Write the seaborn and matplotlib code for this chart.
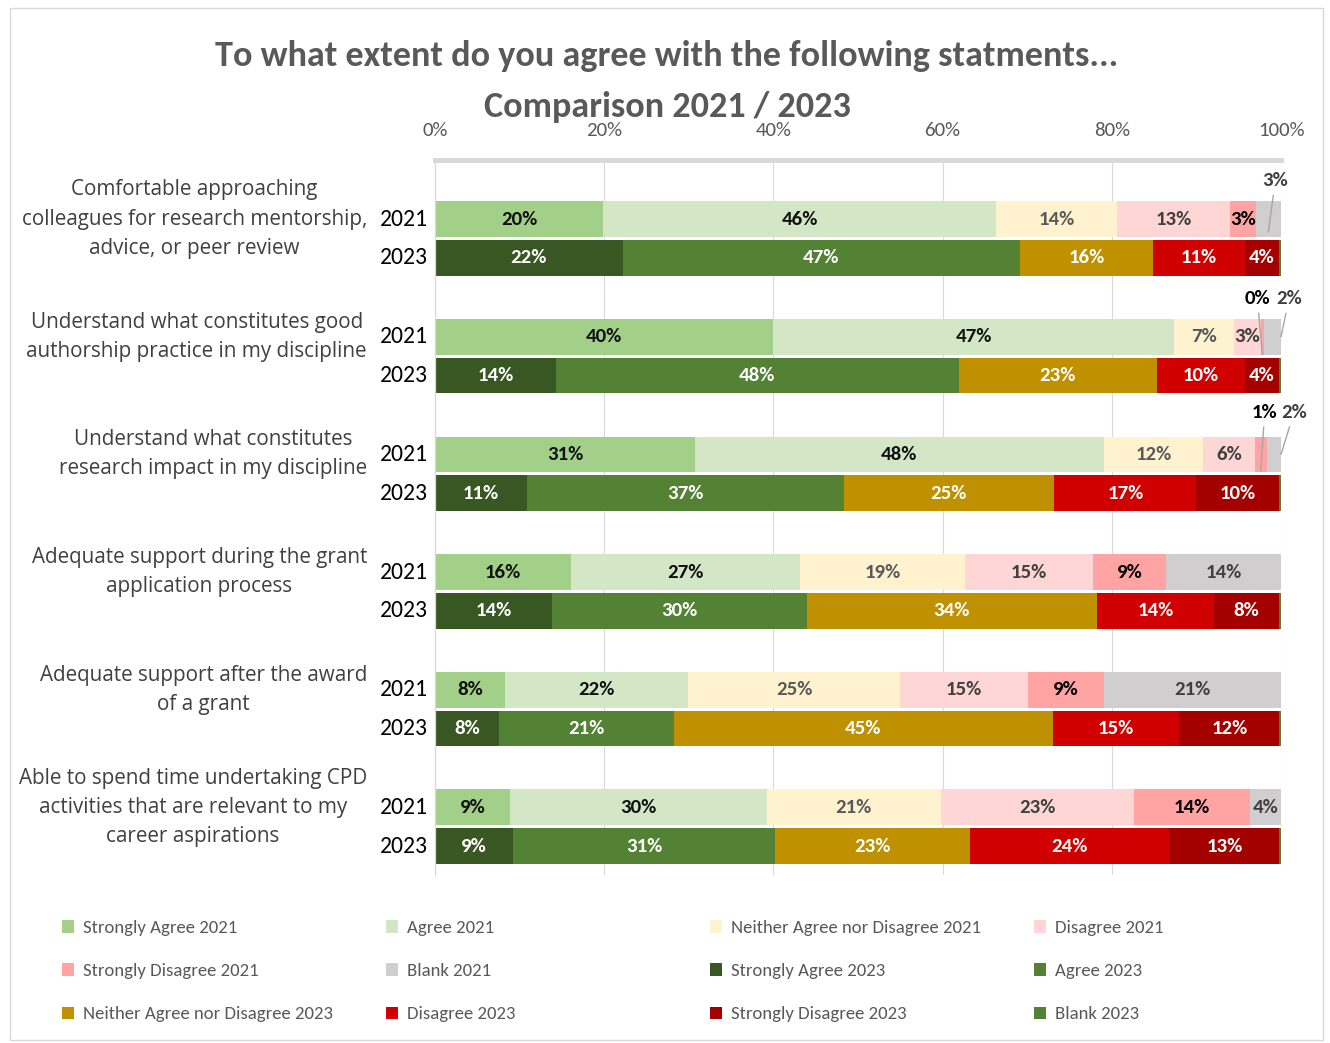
import matplotlib
matplotlib.use("Agg")
import matplotlib.pyplot as plt
from matplotlib import font_manager
from matplotlib.patches import Patch, Rectangle
import pandas as pd
import seaborn as sns

# ---------------------------------------------------------------- data
categories = [
    "Comfortable approaching\ncolleagues for research mentorship,\nadvice, or peer review",
    "Understand what constitutes good\nauthorship practice in my discipline",
    "Understand what constitutes\nresearch impact in my discipline",
    "Adequate support during the grant\napplication process",
    "Adequate support after the award\nof a grant",
    "Able to spend time undertaking CPD\nactivities that are relevant to my\ncareer aspirations",
]
years = ["2021", "2023"]
levels = ["Strongly Agree", "Agree", "Neither Agree nor Disagree",
          "Disagree", "Strongly Disagree", "Blank"]

# shares of respondents (%), one value per statement
strongly_agree_2021 = [19.9, 40.0, 30.7, 16.1, 8.3, 8.9]
agree_2021 = [46.4, 47.4, 48.4, 27.1, 21.6, 30.3]
neither_2021 = [14.3, 7.0, 11.7, 19.4, 25.1, 20.6]
disagree_2021 = [13.4, 3.2, 6.1, 15.2, 15.1, 22.8]
strongly_disagree_2021 = [3.0, 0.4, 1.4, 8.6, 9.0, 13.7]
blank_2021 = [3.0, 2.0, 1.7, 13.6, 20.9, 3.7]

strongly_agree_2023 = [22.2, 14.3, 10.9, 13.8, 7.6, 9.2]
agree_2023 = [46.9, 47.6, 37.4, 30.2, 20.6, 31.0]
neither_2023 = [15.8, 23.4, 24.9, 34.2, 44.8, 23.0]
disagree_2023 = [10.8, 10.4, 16.8, 13.9, 15.0, 23.6]
strongly_disagree_2023 = [4.1, 4.1, 9.8, 7.7, 11.8, 13.0]
blank_2023 = [0.2, 0.2, 0.2, 0.2, 0.2, 0.2]

x_ticks = [0, 20, 40, 60, 80, 100]
x_tick_labels = ["0%", "20%", "40%", "60%", "80%", "100%"]

title_text = ("To what extent do you agree with the following statments...\n"
              "Comparison 2021 / 2023")

values = {
    "2021": [strongly_agree_2021, agree_2021, neither_2021,
             disagree_2021, strongly_disagree_2021, blank_2021],
    "2023": [strongly_agree_2023, agree_2023, neither_2023,
             disagree_2023, strongly_disagree_2023, blank_2023],
}

colors = {
    "2021": ["#A3D088", "#D3E7C6", "#FFF3CF", "#FFD6D6", "#FFA3A3", "#D0CECE"],
    "2023": ["#385723", "#548235", "#BF9000", "#D00000", "#A50000", "#538135"],
}
label_colors = {
    "2021": ["#111111", "#111111", "#595959", "#404040", "#000000", "#404040"],
    "2023": ["#FFFFFF"] * 6,
}

rows = []
for y in years:
    for i, cat in enumerate(categories):
        start = 0.0
        for j, lvl in enumerate(levels):
            v = values[y][j][i]
            rows.append(dict(category=cat, cat_idx=i, year=y, level=lvl,
                             lvl_idx=j, value=v, start=start, end=start + v))
            start += v
df = pd.DataFrame(rows)

# ---------------------------------------------------------------- fonts
sns.set_theme(style="white")
available = {f.name for f in font_manager.fontManager.ttflist}


def pick(*names):
    for n in names:
        if n in available:
            return n
    return "DejaVu Sans"


NARROW = pick("Carlito", "Liberation Sans Narrow", "Roboto Condensed",
              "Open Sans Condensed", "Liberation Sans")
LABEL_FONT = pick("Open Sans", "Noto Sans", "Liberation Sans")
plt.rcParams["font.family"] = [NARROW, "DejaVu Sans"]

W, H = 1330, 1043
fig = plt.figure(figsize=(W / 100, H / 100), dpi=100)
fig.patch.set_facecolor("white")

ax_left, ax_right, ax_top, ax_bottom = 435, 1281, 160, 875
ax = fig.add_axes([ax_left / W, 1 - ax_bottom / H,
                   (ax_right - ax_left) / W, (ax_bottom - ax_top) / H])

BAR_WIDTH = 0.66
GAP = 0.08

# stacked bars: draw cumulative ends from the right-most level down
for j in reversed(range(len(levels))):
    lvl = levels[j]
    sub = df[df["level"] == lvl]
    sns.barplot(data=sub, x="end", y="category", hue="year",
                order=categories, hue_order=years,
                palette={y: colors[y][j] for y in years},
                orient="h", width=BAR_WIDTH, gap=GAP, dodge=True,
                saturation=1, errorbar=None, legend=False,
                linewidth=0, ax=ax, zorder=2)

ax.set_xlim(0, 100)
ax.set_ylim(5.41, -0.667)
ax.set_xlabel("")
ax.set_ylabel("")
ax.set_yticks([])
ax.xaxis.tick_top()
ax.set_xticks(x_ticks)
ax.set_xticklabels(x_tick_labels)
ax.tick_params(axis="x", length=0, pad=15, labelsize=15, labelcolor="#595959")
ax.grid(axis="x", color="#D9D9D9", lw=0.8, zorder=0)
ax.set_axisbelow(True)
for side in ["right", "bottom"]:
    ax.spines[side].set_visible(False)
ax.spines["top"].set_color("#D9D9D9")
ax.spines["top"].set_linewidth(3.6)
ax.spines["left"].set_color("#D9D9D9")
ax.spines["left"].set_linewidth(0.9)

year_offset = {"2021": -BAR_WIDTH / 4, "2023": BAR_WIDTH / 4}
bar_h = BAR_WIDTH / 2 * (1 - GAP)

# labels that sit above the bar with a leader line:
# (statement, level) -> (anchor fraction along segment, anchor shift in bar heights, dx px, dy px)
outside = {
    (0, 5): (0.5, 0.36, 7, 51),
    (1, 4): (0.5, 0.5, -5, 56),
    (1, 5): (1.0, 0.0, 8, 38),
    (2, 4): (0.5, 0.45, 4, 58),
    (2, 5): (1.0, 0.0, 13, 42),
}

for _, r in df.iterrows():
    y = r["cat_idx"] + year_offset[r["year"]]
    v = r["value"]
    txt = f"{v:.0f}%"
    col = label_colors[r["year"]][r["lvl_idx"]]
    if r["year"] == "2023" and r["level"] == "Blank":
        continue
    key = (r["cat_idx"], r["lvl_idx"])
    if r["year"] == "2021" and key in outside:
        fx, fy, dx, dy = outside[key]
        ax.annotate(txt, xy=(r["start"] + fx * v, y + fy * bar_h),
                    xytext=(dx, dy), textcoords="offset pixels",
                    ha="center", va="center", fontsize=15, fontweight="bold",
                    color=col, annotation_clip=False,
                    arrowprops=dict(arrowstyle="-", color="#A6A6A6", lw=1.0,
                                    shrinkA=2, shrinkB=0))
        continue
    ax.text(r["start"] + v / 2, y, txt, ha="center", va="center",
            fontsize=15, fontweight="bold", color=col, zorder=5)

# year labels and statement labels to the left of the bars
for i, cat in enumerate(categories):
    for yname in years:
        ax.annotate(yname, xy=(0, i + year_offset[yname]),
                    xycoords=("axes fraction", "data"),
                    xytext=(-7, 0), textcoords="offset pixels",
                    ha="right", va="center", fontsize=17, color="#000000",
                    annotation_clip=False)
    ax.annotate(cat, xy=(0, i + year_offset["2021"]),
                xycoords=("axes fraction", "data"),
                xytext=(-68, 0), textcoords="offset pixels",
                ha="right", va="center", multialignment="center",
                fontsize=14.9, color="#404040", linespacing=1.51,
                family=[LABEL_FONT, "DejaVu Sans"], annotation_clip=False)

# title
fig.text(667 / W, 1 - 40 / H, title_text, ha="center", va="top",
         fontsize=26, fontweight="bold", color="#595959",
         linespacing=1.72, zorder=10)

# legend: four columns, filled row by row
legend_cols = [62, 386, 710, 1034]
handles = []
for y in years:
    for j, lvl in enumerate(levels):
        handles.append(Patch(facecolor=colors[y][j], edgecolor="none",
                             label=f"{lvl} {y}"))
for c, x in enumerate(legend_cols):
    col_handles = handles[c::4]
    fig.legend(handles=col_handles, loc="upper left",
               bbox_to_anchor=(x / W, 1 - 920 / H), frameon=False,
               fontsize=13.5, labelcolor="#595959", borderpad=0,
               borderaxespad=0, handlelength=0.65, handleheight=0.65,
               handletextpad=0.45, labelspacing=1.45)

# outer chart border
fig.add_artist(Rectangle((10 / W, 1 - 1040 / H), 1313 / W, 1032 / H,
                         transform=fig.transFigure, fill=False,
                         edgecolor="#D9D9D9", lw=1.0))

fig.savefig("out.png", dpi=100)
